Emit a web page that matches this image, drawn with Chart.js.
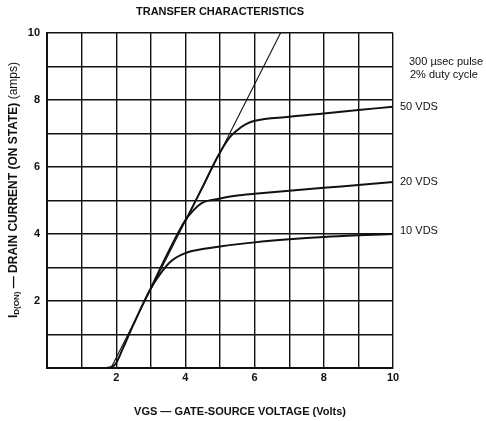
<!DOCTYPE html>
<html>
<head>
<meta charset="utf-8">
<script src="https://cdn.jsdelivr.net/npm/chart.js@4.4.1/dist/chart.umd.min.js"></script>
<style>
  html, body { margin: 0; padding: 0; background: #fff; }
  #wrap { width: 486px; height: 421px; }
</style>
</head>
<body>
<div id="wrap"><canvas id="chart" width="486" height="421"></canvas></div>
<script>
// datos (VGS en voltios, ID en amperios)
var lineVgs = [1.85, 6.75];
var lineId = [0, 10];

var vgs10 = [1.68, 1.9, 2.0, 2.2, 2.5, 3.0, 3.3, 3.6, 4.0, 4.5, 5.0, 6.0, 7.0, 8.0, 9.0, 10.0];
var id10 = [0, 0.05, 0.15, 0.6, 1.3, 2.38, 2.85, 3.2, 3.43, 3.55, 3.63, 3.75, 3.84, 3.91, 3.96, 4.0];

var vgs20 = [3.0, 3.5, 4.0, 4.2, 4.47, 5.0, 5.5, 6.0, 7.0, 8.0, 9.0, 10.0];
var id20 = [2.38, 3.45, 4.42, 4.67, 4.92, 5.06, 5.15, 5.2, 5.29, 5.38, 5.46, 5.55];

var vgs50 = [4.0, 4.5, 4.9, 5.25, 5.5, 5.75, 6.0, 7.0, 8.0, 9.0, 10.0];
var id50 = [4.39, 5.41, 6.25, 6.85, 7.1, 7.28, 7.38, 7.5, 7.6, 7.7, 7.8];

var tickLabels = [2, 4, 6, 8, 10];

var curveLabels = ['10 VDS', '20 VDS', '50 VDS'];

function pts(xs, ys) {
    return xs.map(function (x, i) { return { x: x, y: ys[i] }; });
}

var ink = '#111';
var family = '"Liberation Sans", Arial, Helvetica, sans-serif';

// textos fuera del area de trazado
var textPlugin = {
    id: 'textos',
    afterDraw: function (chart) {
        var ctx = chart.ctx;
        var area = chart.chartArea;
        var ys = chart.scales.y;
        ctx.save();
        ctx.fillStyle = ink;
        ctx.textBaseline = 'middle';

        ctx.font = 'bold 11px ' + family;
        ctx.textAlign = 'center';
        ctx.fillText('TRANSFER CHARACTERISTICS', (area.left + area.right) / 2, 12);

        ctx.font = 'bold 11px ' + family;
        ctx.fillText('VGS \u2014 GATE-SOURCE VOLTAGE (Volts)', 240, 412);

        // etiquetas a la derecha
        ctx.font = '11px ' + family;
        ctx.textAlign = 'left';
        ctx.fillText('300 \u00b5sec pulse', 409, 62);
        ctx.fillText('2% duty cycle', 410, 75);
        var ends = [id10[id10.length - 1], id20[id20.length - 1], id50[id50.length - 1]];
        var offs = [-3, 0, 0];
        curveLabels.forEach(function (t, i) {
            ctx.fillText(t, 400, ys.getPixelForValue(ends[i]) + offs[i]);
        });

        // titulo eje Y con subindice y pesos mezclados
        ctx.translate(14, 190);
        ctx.rotate(-Math.PI / 2);
        var parts = [
            { t: 'I', f: 'bold 12px ', dy: 0 },
            { t: 'D(ON)', f: 'bold 8px ', dy: 3 },
            { t: ' \u2014 DRAIN CURRENT (ON STATE) ', f: 'bold 12px ', dy: 0 },
            { t: '(amps)', f: '12px ', dy: 0 }
        ];
        var total = 0;
        parts.forEach(function (p) { ctx.font = p.f + family; p.w = ctx.measureText(p.t).width; total += p.w; });
        var x = -total / 2;
        parts.forEach(function (p) {
            ctx.font = p.f + family;
            ctx.fillText(p.t, x, p.dy);
            x += p.w;
        });
        ctx.restore();
    }
};

var evenLabel = function (v) {
    return tickLabels.indexOf(v) >= 0 ? String(v) : '';
};

new Chart(document.getElementById('chart').getContext('2d'), {
    type: 'line',
    data: {
        datasets: [
            { data: pts(lineVgs, lineId), borderColor: ink, borderWidth: 1.1, tension: 0 },
            { data: pts(vgs10, id10), borderColor: ink, borderWidth: 2, cubicInterpolationMode: 'monotone' },
            { data: pts(vgs20, id20), borderColor: ink, borderWidth: 2, cubicInterpolationMode: 'monotone' },
            { data: pts(vgs50, id50), borderColor: ink, borderWidth: 2, cubicInterpolationMode: 'monotone' }
        ]
    },
    options: {
        responsive: false,
        animation: false,
        devicePixelRatio: 1,
        layout: { padding: { left: 0, right: 93, top: 33, bottom: 0 } },
        elements: { point: { radius: 0 } },
        plugins: { legend: { display: false }, tooltip: { enabled: false } },
        scales: {
            x: {
                type: 'linear', min: 0, max: 10,
                afterFit: function (s) { s.height = 53; },
                ticks: { stepSize: 1, autoSkip: false, maxRotation: 0, padding: 3, color: ink,
                    font: { family: family, size: 11, weight: 'bold' }, callback: evenLabel },
                grid: { color: ink, lineWidth: 1.4, drawTicks: false },
                border: { color: ink, width: 2 }
            },
            y: {
                type: 'linear', min: 0, max: 10,
                afterFit: function (s) { s.width = 47; },
                ticks: { stepSize: 1, autoSkip: false, padding: 7, color: ink,
                    font: { family: family, size: 11, weight: 'bold' }, callback: evenLabel },
                grid: { color: ink, lineWidth: 1.4, drawTicks: false },
                border: { color: ink, width: 2 }
            }
        }
    },
    plugins: [textPlugin]
});
</script>
</body>
</html>
